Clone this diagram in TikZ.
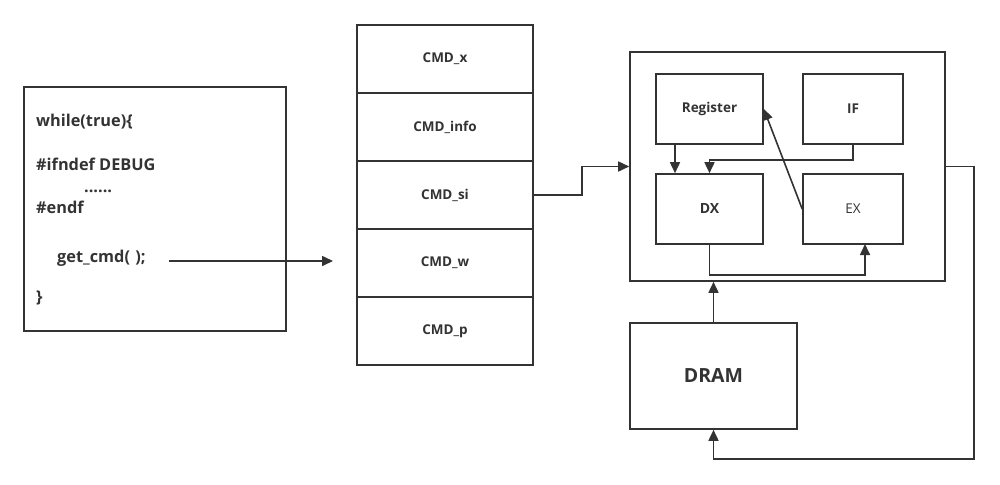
\documentclass[tikz,border=0pt]{standalone}
\usepackage{fontspec}
\setmainfont{Open Sans}
\usetikzlibrary{arrows.meta,calc}
\definecolor{ink}{HTML}{333333}
\tikzset{
  box/.style={draw=ink, line width=1.6pt, minimum width=#1, inner sep=0pt},
  cell/.style={draw=ink, line width=2.4pt, minimum width=176pt, minimum height=68pt, inner sep=0pt, font=\bfseries\fontsize{13.5}{13.5}\selectfont, text=ink},
  code/.style={anchor=base west, inner sep=0pt, font=\bfseries\fontsize{16.3}{16.3}\selectfont, text=ink},
  lbl/.style={text=ink, font=\bfseries\fontsize{13.5}{13.5}\selectfont},
  conn/.style={draw=ink, line width=1.6pt},
  arr/.style={conn, -{Triangle[length=11pt,width=10pt]}}
}
\begin{document}
\begin{tikzpicture}[x=1pt,y=-1pt]
\useasboundingbox (0,0) rectangle (1000,484);
% left code box
\node[box=262pt, minimum height=244pt] (prog) at (155,209) {};
\node[code] (l1) at (36,127) {while(true)\{};
\node[code] (l2) at (36,170) {\#ifndef DEBUG};
\node[code] (l3) at (84,192) {......};
\node[code] (l4) at (36,213) {\#endf};
\node[code] (l5) at (57,262) {get\_cmd(\,\,);};
\node[code] (l6) at (36,302) {\}};
\coordinate (stackin) at (333,261);
\draw[arr] (169,261) -- (stackin);
% command stack
\node[cell] (c1) at (445,59) {CMD\_x};
\node[cell] (c2) at (445,127) {CMD\_info};
\node[cell] (c3) at (445,195) {CMD\_si};
\node[cell] (c4) at (445,263) {CMD\_w};
\node[cell] (c5) at (445,331) {CMD\_p};
% cpu
\node[box=315pt, minimum height=229pt] (cpu) at (787.5,166.5) {};
\node[box=107pt, minimum height=70pt, lbl] (reg) at (709.5,109) {Register};
\node[box=100pt, minimum height=70pt, lbl] (if) at (853,109) {IF};
\node[box=107pt, minimum height=70pt, lbl, font=\bfseries\fontsize{14}{14}\selectfont] (dx) at (709.5,209) {DX};
\node[box=100pt, minimum height=70pt, text=ink, font=\fontsize{13.5}{13.5}\selectfont] (ex) at (853,209) {EX};
\node[box=167pt, minimum height=106pt, text=ink, font=\bfseries\fontsize{19.5}{19.5}\selectfont] (dram) at (713.5,376) {DRAM};
% connectors
\draw[arr] (c3.east) -- ++(48,0) |- (cpu.west);
\draw[arr] (reg.south -| 675,0) -- (dx.north -| 675,0);
\draw[arr] (if.south) -- ++(0,15) -| (dx.north);
\draw[arr] (ex.west) -- (reg.east);
\coordinate (exin) at (865,244);
\draw[arr] (dx.south) -- ++(0,30) -| (exin);
\draw[arr] (dram.north) -- (cpu.south -| dram.north);
\coordinate (r1) at (974,166.5);
\coordinate (r2) at (974,459);
\draw[arr] (cpu.east) -- (r1) -- (r2) -| (dram.south);
\end{tikzpicture}
\end{document}
